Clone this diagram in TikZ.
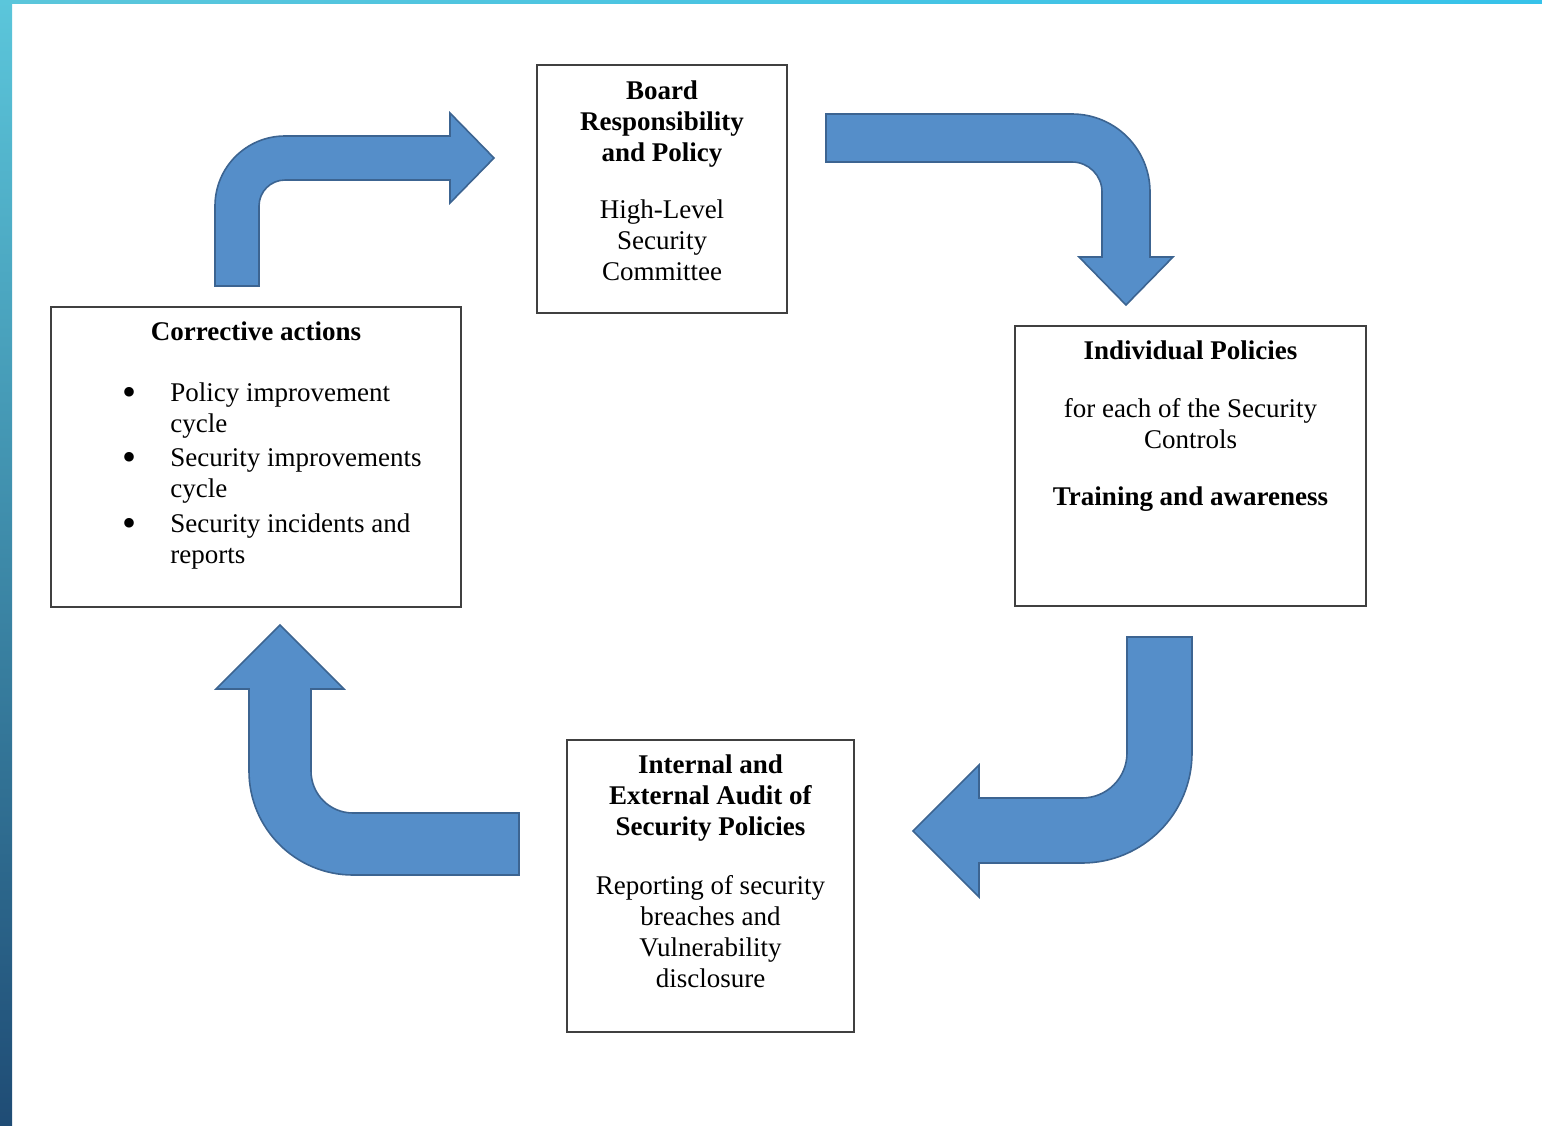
\documentclass[tikz,border=0pt]{standalone}
\usepackage{fontspec}
\setmainfont{Liberation Serif}
\usetikzlibrary{positioning}
\definecolor{arrowblue}{RGB}{85,142,201}
\definecolor{arrowedge}{RGB}{60,100,145}
\definecolor{stripa}{RGB}{91,198,219}
\definecolor{stripb}{RGB}{31,76,117}
\newcommand{\bigdot}{\raisebox{-2pt}{\fontsize{20}{0}\selectfont\textbullet}}
\begin{document}
\begin{tikzpicture}[x=0.5pt,y=-0.5pt]
        \tikzstyle{box}=[draw=black!75, line width=0.6pt, inner sep=0pt]
        \tikzstyle{txt}=[anchor=north, align=center, inner sep=0pt, font=\fontsize{13.5}{15.6}\selectfont]
        \tikzstyle{bent}=[fill=arrowblue, draw=arrowedge, line width=0.8pt, line join=miter]

        \useasboundingbox (0,0) rectangle (1542,1125);
        \shade[top color=stripa, bottom color=stripb] (0,0) rectangle (12,1125);
        \shade[left color=stripa, right color=stripa!85!blue!70!cyan] (12,0) rectangle (1542,3);

        \node[box, minimum width=125pt, minimum height=124pt] (board) at (662,189) {};
        \node[box, minimum width=175.5pt, minimum height=140pt] (indiv) at (1190.5,466) {};
        \node[box, minimum width=143.5pt, minimum height=146pt] (audit) at (710.5,886) {};
        \node[box, minimum width=205pt, minimum height=150pt] (corr) at (256,457) {};

        \node[txt, below=8pt of board.north] (boardtxt) {\textbf{Board}\\\textbf{Responsibility}\\\textbf{and Policy}\\[12.5pt]High-Level\\Security\\Committee};
        \node[txt, below=7.5pt of indiv.north] (indivtxt) {\textbf{Individual Policies}\\[13.5pt]for each of the Security\\Controls\\[12.5pt]\textbf{Training and awareness}};
        \node[txt, below=7.5pt of audit.north] (audittxt) {\textbf{Internal and}\\\textbf{External Audit of}\\\textbf{Security Policies}\\[13.5pt]Reporting of security\\breaches and\\Vulnerability\\disclosure};
        \node[txt, below=7.5pt of corr.north] (corrtxt) {\textbf{Corrective actions}};
        \node[anchor=north west, inner sep=0pt, font=\fontsize{13.5}{15.6}\selectfont] (corrlist) at (122,379)
            {\begin{tabular}{@{}p{24pt}@{}l@{}}
            \bigdot & Policy improvement\\
                    & cycle\\[1.5pt]
            \bigdot & Security improvements\\
                    & cycle\\[1.5pt]
            \bigdot & Security incidents and\\
                    & reports
            \end{tabular}};

        \draw[bent] (215,286) -- (215,206) arc[start angle=180, end angle=90, radius=35pt]
            -- (450,136) -- (450,113) -- (494,158) -- (450,203) -- (450,180) -- (285,180)
            arc[start angle=90, end angle=180, radius=13pt] -- (259,286) -- cycle;
        \draw[bent] (826,114) -- (1072,114) arc[start angle=90, end angle=0, radius=39pt]
            -- (1150,257) -- (1173,257) -- (1126,305) -- (1079,257) -- (1102,257) -- (1102,192)
            arc[start angle=0, end angle=90, radius=15pt] -- (826,162) -- cycle;
        \draw[bent] (1127,637) -- (1192,637) -- (1192,753) arc[start angle=0, end angle=-90, radius=55pt]
            -- (979,863) -- (979,897) -- (913,831) -- (979,765) -- (979,798) -- (1082,798)
            arc[start angle=-90, end angle=0, radius=22.5pt] -- cycle;
        \draw[bent] (519,813) -- (353,813) arc[start angle=-90, end angle=-180, radius=21pt]
            -- (311,689) -- (344,689) -- (280,625) -- (216,689) -- (249,689) -- (249,771)
            arc[start angle=180, end angle=270, radius=52pt] -- (519,875) -- cycle;
    \end{tikzpicture}
\end{document}
